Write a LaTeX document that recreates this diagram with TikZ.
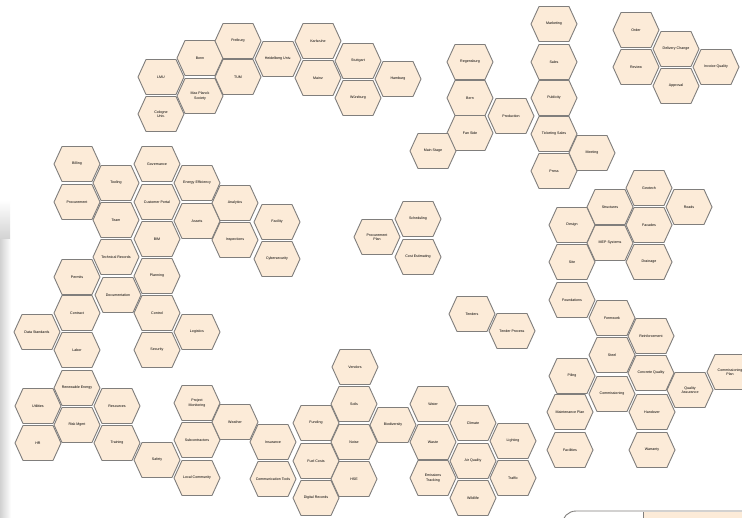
\documentclass[tikz,border=0pt]{standalone}
\usepackage{fontspec}
\setmainfont{Liberation Sans}
\definecolor{hexfill}{RGB}{252,235,216}
\definecolor{hexline}{RGB}{128,126,124}
\newcommand{\hexat}[4]{%
  \draw[hexborder] (#2,#3) ++(-23,0) -- ++(8,-17.5) -- ++(30,0) -- ++(8,17.5) -- ++(-8,17.5) -- ++(-30,0) -- cycle;
  \node[hexlabel] (#1) at (#2,#3) {#4};
}
\begin{document}
\begin{tikzpicture}[x=1pt,y=-1pt,
  hexborder/.style={fill=hexfill,draw=hexline,line width=0.9pt},
  hexlabel/.style={font=\fontsize{3.6}{4.2}\selectfont,align=center,inner sep=0pt,text=black}]
\useasboundingbox (0,0) rectangle (742,518);
\fill[white] (0,0) rectangle (742,518);
\shade[top color=white,bottom color=black!18] (0,200) rectangle (10,240);
\shade[left color=black!18,right color=white] (0,240) rectangle (11,518);
% cluster A
\hexat{a1}{161}{77}{LMU}
\hexat{a2}{161}{114}{Cologne\\Univ.}
\hexat{a3}{200}{58}{Bonn}
\hexat{a4}{200}{96}{Max Planck\\Society}
\hexat{a5}{238}{41}{Freiburg}
\hexat{a6}{238}{77}{TUM}
\hexat{a7}{278}{59}{Heidelberg Univ.}
\hexat{a8}{318}{41}{Karlsruhe}
\hexat{a9}{318}{78}{Mainz}
\hexat{a10}{358}{61}{Stuttgart}
\hexat{a11}{358}{98}{Würzburg}
\hexat{a12}{398}{79}{Hamburg}
% cluster B
\hexat{b1}{470}{62}{Regensburg}
\hexat{b2}{470}{98}{Bern}
\hexat{b3}{470}{133}{Fan Side}
\hexat{b4}{433}{151}{Main Stage}
\hexat{b5}{511}{116}{Production}
\hexat{b6}{554}{24}{Marketing}
\hexat{b7}{554}{62}{Sales}
\hexat{b8}{554}{98}{Publicity}
\hexat{b9}{554}{134}{Ticketing Sales}
\hexat{b10}{554}{171}{Press}
\hexat{b11}{592}{153}{Meeting}
% cluster C
\hexat{c1}{636}{30}{Order}
\hexat{c2}{636}{67}{Review}
\hexat{c3}{676}{49}{Delivery Change}
\hexat{c4}{676}{86}{Approval}
\hexat{c5}{716}{67}{Invoice Quality}
% cluster D
\hexat{d1}{77}{164}{Billing}
\hexat{d2}{77}{202}{Procurement}
\hexat{d3}{116}{183}{Tooling}
\hexat{d4}{116}{220}{Team}
\hexat{d5}{157}{164}{Governance}
\hexat{d6}{157}{202}{Customer Portal}
\hexat{d7}{157}{239}{BIM}
\hexat{d8}{116}{257}{Technical Records}
\hexat{d9}{197}{183}{Energy Efficiency}
\hexat{d10}{197}{221}{Assets}
\hexat{d11}{235}{203}{Analytics}
\hexat{d12}{235}{240}{Inspections}
\hexat{d13}{277}{222}{Facility}
\hexat{d14}{277}{259}{Cybersecurity}
\hexat{d15}{157}{276}{Planning}
\hexat{d16}{118}{295}{Documentation}
\hexat{d17}{157}{313}{Control}
\hexat{d18}{197}{332}{Logistics}
\hexat{d19}{157}{350}{Security}
\hexat{d20}{77}{277}{Permits}
\hexat{d21}{77}{313}{Contract}
\hexat{d22}{37}{332}{Data Standards}
\hexat{d23}{77}{350}{Labor}
\hexat{d24}{77}{388}{Renewable Energy}
\hexat{d25}{38}{406}{Utilities}
\hexat{d26}{38}{443}{HR}
\hexat{d27}{77}{425}{Risk Mgmt}
\hexat{d28}{117}{406}{Resources}
\hexat{d29}{117}{443}{Training}
\hexat{d30}{157}{460}{Safety}
\hexat{d31}{197}{403}{Project\\Monitoring}
\hexat{d32}{197}{440}{Subcontractors}
\hexat{d33}{197}{478}{Local Community}
\hexat{d34}{235}{422}{Weather}
% cluster E
\hexat{e1}{273}{442}{Insurance}
\hexat{e2}{273}{479}{Communication Tools}
\hexat{e3}{316}{423}{Funding}
\hexat{e4}{316}{461}{Fuel Costs}
\hexat{e5}{316}{498}{Digital Records}
\hexat{e6}{355}{367}{Vendors}
\hexat{e7}{354}{404}{Soils}
\hexat{e8}{354}{442}{Noise}
\hexat{e9}{354}{479}{HSE}
\hexat{e10}{393}{425}{Biodiversity}
\hexat{e11}{433}{404}{Water}
\hexat{e12}{433}{442}{Waste}
\hexat{e13}{433}{478}{Emissions\\Tracking}
\hexat{e14}{473}{423}{Climate}
\hexat{e15}{473}{461}{Air Quality}
\hexat{e16}{473}{498}{Wildlife}
\hexat{e17}{513}{441}{Lighting}
\hexat{e18}{513}{478}{Traffic}
% middle
\hexat{m1}{377}{237}{Procurement\\Plan}
\hexat{m2}{418}{219}{Scheduling}
\hexat{m3}{418}{257}{Cost Estimating}
\hexat{m4}{472}{314}{Tenders}
\hexat{m5}{512}{331}{Tender Process}
% cluster F
\hexat{f1}{572}{225}{Design}
\hexat{f2}{610}{207}{Structures}
\hexat{f3}{649}{188}{Geotech}
\hexat{f4}{689}{207}{Roads}
\hexat{f5}{649}{225}{Facades}
\hexat{f6}{610}{243}{MEP Systems}
\hexat{f7}{572}{262}{Site}
\hexat{f8}{649}{262}{Drainage}
\hexat{f9}{572}{300}{Foundations}
\hexat{f10}{612}{318}{Formwork}
\hexat{f11}{651}{336}{Reinforcement}
\hexat{f12}{612}{355}{Steel}
\hexat{f13}{572}{376}{Piling}
\hexat{f14}{651}{373}{Concrete Quality}
\hexat{f15}{690}{390}{Quality\\Assurance}
\hexat{f16}{730}{372}{Commissioning\\Plan}
\hexat{f17}{612}{394}{Commissioning}
\hexat{f18}{570}{412}{Maintenance Plan}
\hexat{f19}{570}{450}{Facilities}
\hexat{f20}{652}{412}{Handover}
\hexat{f21}{652}{450}{Warranty}
% bottom right partial frame
\begin{scope}
\clip (0,0) rectangle (742,518);
\fill[hexfill] (643,512) rectangle (760,530);
\draw[hexline,line width=0.9pt,rounded corners=14pt] (562,540) -- (562,511) -- (760,511);
\draw[hexline,line width=0.6pt] (643,512) -- (643,530);
\end{scope}
\end{tikzpicture}
\end{document}
